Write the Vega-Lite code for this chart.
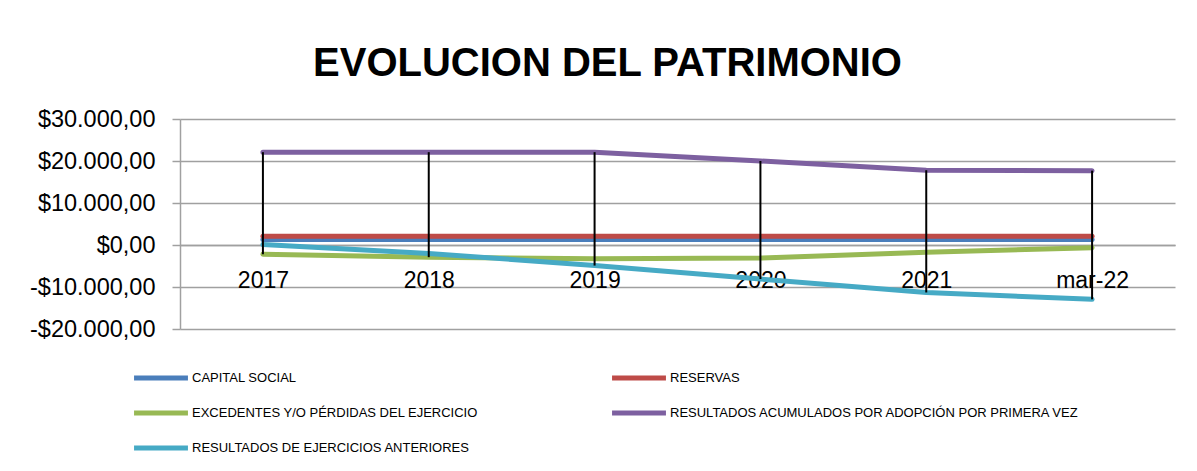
{
  "$schema": "https://vega.github.io/schema/vega-lite/v6.json",
  "autosize": "none",
  "width": 995,
  "height": 210,
  "padding": {"left": 180, "top": 119, "right": 22, "bottom": 142},
  "background": "white",
  "config": {
    "locale": {"number": {"decimal": ",", "thousands": ".", "grouping": [3], "currency": ["$", ""], "minus": "-"}},
    "font": "Liberation Sans",
    "view": {"stroke": null}
  },
  "title": {
    "text": "EVOLUCION DEL PATRIMONIO",
    "font": "Liberation Sans",
    "fontSize": 40,
    "fontWeight": "bold",
    "color": "black",
    "anchor": "middle",
    "dx": -70,
    "dy": 53,
    "baseline": "alphabetic",
    "offset": 44
  },
  "data": {
    "values": [
      {"year": "2017", "series": "CAPITAL SOCIAL", "value": 1300},
      {"year": "2018", "series": "CAPITAL SOCIAL", "value": 1300},
      {"year": "2019", "series": "CAPITAL SOCIAL", "value": 1300},
      {"year": "2020", "series": "CAPITAL SOCIAL", "value": 1300},
      {"year": "2021", "series": "CAPITAL SOCIAL", "value": 1300},
      {"year": "mar-22", "series": "CAPITAL SOCIAL", "value": 1300},
      {"year": "2017", "series": "RESERVAS", "value": 2100},
      {"year": "2018", "series": "RESERVAS", "value": 2100},
      {"year": "2019", "series": "RESERVAS", "value": 2100},
      {"year": "2020", "series": "RESERVAS", "value": 2100},
      {"year": "2021", "series": "RESERVAS", "value": 2100},
      {"year": "mar-22", "series": "RESERVAS", "value": 2100},
      {"year": "2017", "series": "EXCEDENTES Y/O PÉRDIDAS  DEL EJERCICIO", "value": -2200},
      {"year": "2018", "series": "EXCEDENTES Y/O PÉRDIDAS  DEL EJERCICIO", "value": -2900},
      {"year": "2019", "series": "EXCEDENTES Y/O PÉRDIDAS  DEL EJERCICIO", "value": -3300},
      {"year": "2020", "series": "EXCEDENTES Y/O PÉRDIDAS  DEL EJERCICIO", "value": -3100},
      {"year": "2021", "series": "EXCEDENTES Y/O PÉRDIDAS  DEL EJERCICIO", "value": -1700},
      {"year": "mar-22", "series": "EXCEDENTES Y/O PÉRDIDAS  DEL EJERCICIO", "value": -640},
      {"year": "2017", "series": "RESULTADOS ACUMULADOS POR ADOPCIÓN POR PRIMERA VEZ", "value": 22100},
      {"year": "2018", "series": "RESULTADOS ACUMULADOS POR ADOPCIÓN POR PRIMERA VEZ", "value": 22100},
      {"year": "2019", "series": "RESULTADOS ACUMULADOS POR ADOPCIÓN POR PRIMERA VEZ", "value": 22100},
      {"year": "2020", "series": "RESULTADOS ACUMULADOS POR ADOPCIÓN POR PRIMERA VEZ", "value": 20000},
      {"year": "2021", "series": "RESULTADOS ACUMULADOS POR ADOPCIÓN POR PRIMERA VEZ", "value": 17800},
      {"year": "mar-22", "series": "RESULTADOS ACUMULADOS POR ADOPCIÓN POR PRIMERA VEZ", "value": 17700},
      {"year": "2017", "series": "RESULTADOS DE EJERCICIOS ANTERIORES", "value": 100},
      {"year": "2018", "series": "RESULTADOS DE EJERCICIOS ANTERIORES", "value": -2000},
      {"year": "2019", "series": "RESULTADOS DE EJERCICIOS ANTERIORES", "value": -4900},
      {"year": "2020", "series": "RESULTADOS DE EJERCICIOS ANTERIORES", "value": -8100},
      {"year": "2021", "series": "RESULTADOS DE EJERCICIOS ANTERIORES", "value": -11300},
      {"year": "mar-22", "series": "RESULTADOS DE EJERCICIOS ANTERIORES", "value": -12930}
    ]
  },
  "layer": [
    {
      "mark": {"type": "line", "strokeWidth": 5, "strokeCap": "round", "strokeJoin": "round"},
      "encoding": {
        "x": {
          "field": "year", "type": "ordinal",
          "sort": ["2017", "2018", "2019", "2020", "2021", "mar-22"],
          "scale": {"type": "point", "padding": 0.5},
          "axis": {
            "title": null, "labelAngle": 0, "labelFont": "Liberation Sans", "labelFontSize": 23,
            "labelColor": "black", "ticks": false, "domain": true, "domainColor": "#A0A0A0",
            "domainWidth": 1.5, "offset": -84, "labelPadding": 24, "grid": false
          }
        },
        "y": {
          "field": "value", "type": "quantitative",
          "scale": {"domain": [-20000, 30000], "nice": false, "zero": false},
          "axis": {
            "title": null, "values": [-20000, -10000, 0, 10000, 20000, 30000],
            "format": "$,.2f", "labelFont": "Liberation Sans", "labelFontSize": 23.5,
            "labelColor": "black", "tickSize": 8, "tickColor": "#A0A0A0", "tickWidth": 1.5,
            "domainColor": "#A0A0A0", "domainWidth": 1.5, "gridColor": "#A0A0A0",
            "gridWidth": 1.5, "gridOpacity": 1, "labelPadding": 17
          }
        },
        "color": {
          "field": "series", "type": "nominal",
          "sort": ["CAPITAL SOCIAL", "RESERVAS", "EXCEDENTES Y/O PÉRDIDAS  DEL EJERCICIO", "RESULTADOS ACUMULADOS POR ADOPCIÓN POR PRIMERA VEZ", "RESULTADOS DE EJERCICIOS ANTERIORES"],
          "scale": {
            "domain": ["CAPITAL SOCIAL", "RESERVAS", "EXCEDENTES Y/O PÉRDIDAS  DEL EJERCICIO", "RESULTADOS ACUMULADOS POR ADOPCIÓN POR PRIMERA VEZ", "RESULTADOS DE EJERCICIOS ANTERIORES"],
            "range": ["#4A7EBB", "#BE4B48", "#98B954", "#7D60A0", "#46AAC5"]
          },
          "legend": {
            "title": null, "orient": "none", "legendX": -39, "legendY": 239, "direction": "horizontal",
            "columns": 2, "symbolType": "M-1.54,0H1.54", "symbolSize": 1225, "symbolStrokeWidth": 5,
            "symbolFillColor": "transparent",
            "labelFont": "Liberation Sans", "labelFontSize": 13, "labelColor": "black",
            "labelLimit": 600, "labelOffset": 11, "rowPadding": 5, "columnPadding": 120, "padding": 0
          }
        },
        "order": {"field": "series"}
      }
    },
    {
      "transform": [
        {"aggregate": [{"op": "max", "field": "value", "as": "hi"}, {"op": "min", "field": "value", "as": "lo"}], "groupby": ["year"]}
      ],
      "mark": {"type": "rule", "color": "black", "strokeWidth": 2},
      "encoding": {
        "x": {"field": "year", "type": "ordinal", "sort": ["2017", "2018", "2019", "2020", "2021", "mar-22"]},
        "y": {"field": "hi", "type": "quantitative"},
        "y2": {"field": "lo"}
      }
    }
  ]
}
